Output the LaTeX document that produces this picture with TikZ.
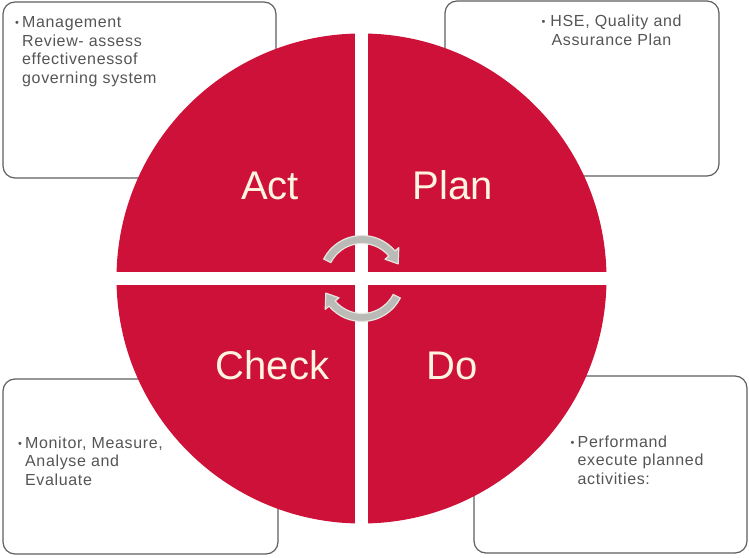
\documentclass[tikz,border=0pt]{standalone}
\usepackage{fontspec}
\setmainfont{Liberation Sans}
\newfontfamily\boxfont[LetterSpace=4]{Liberation Sans}
\definecolor{pdcared}{RGB}{206,17,57}
\definecolor{labelcream}{RGB}{255,245,222}
\definecolor{boxtext}{RGB}{85,85,85}
\definecolor{boxline}{RGB}{95,95,95}
\definecolor{arrowfill}{RGB}{186,186,182}
\definecolor{arrowedge}{RGB}{230,230,224}
\begin{document}
\begin{tikzpicture}[x=1pt,y=1pt,
  infobox/.style={draw=boxline, line width=1.2pt, rounded corners=12pt, fill=white, inner sep=0pt},
  infotext/.style={text=boxtext, font=\boxfont\fontsize{16}{18.5}\selectfont, inner sep=0pt, anchor=base west},
  phase/.style={text=labelcream, font=\fontsize{40}{44}\selectfont, inner sep=0pt, anchor=base},
  cyclearrow/.style={fill=arrowfill, draw=arrowedge, line width=1.2pt, line join=round}]
\useasboundingbox (0,0) rectangle (749,557);
% boxes
\node[infobox, minimum width=273pt, minimum height=176pt] (boxact) at (139.5,467) {};
\node[infobox, minimum width=274pt, minimum height=175pt] (boxplan) at (582,468.5) {};
\node[infobox, minimum width=275pt, minimum height=175pt] (boxcheck) at (140.5,90.5) {};
\node[infobox, minimum width=273pt, minimum height=177pt] (boxdo) at (610.5,92.5) {};
% box texts
\node[infotext] (textact) at (15,529) {\begin{tabular}[t]{@{}l@{}l@{}}\makebox[7pt][l]{\fontsize{11}{11}\selectfont\raisebox{1pt}{•}} & Management\\ & Review- assess\\ & effectivenessof\\ & governing system\end{tabular}};
\node[infotext, anchor=base] (textplan) at (611.5,530) {\begin{tabular}[t]{@{}c@{}}{\fontsize{11}{11}\selectfont\raisebox{1pt}{•}}\ HSE, Quality and\\ Assurance Plan\end{tabular}};
\node[infotext] (textcheck) at (18,109) {\begin{tabular}[t]{@{}l@{}l@{}}\makebox[7pt][l]{\fontsize{11}{11}\selectfont\raisebox{1pt}{•}} & Monitor, Measure,\\ & Analyse and\\ & Evaluate\end{tabular}};
\node[infotext] (textdo) at (570.5,110) {\begin{tabular}[t]{@{}l@{}l@{}}\makebox[7pt][l]{\fontsize{11}{11}\selectfont\raisebox{1pt}{•}} & Performand\\ & execute planned\\ & activities:\end{tabular}};
% wheel
\node[circle, fill=pdcared, minimum size=490pt, inner sep=0pt] (wheel) at (361.5,278.5) {};
\fill[white] (355,30) rectangle (368,527);
\fill[white] (113,272) rectangle (610,285);
% labels
\node[phase] (act) at (270,357) {Act};
\node[phase] (plan) at (452.5,357) {Plan};
\node[phase] (check) at (272.5,177) {Check};
\node[phase] (do) at (452.5,177) {Do};
% cycle arrows
\begin{scope}[shift={(362,278.5)}]
\path[cyclearrow] (153:43) arc[start angle=153, end angle=40, radius=43] -- (40:48) -- (22:39) -- (40:30) -- (40:35) arc[start angle=40, end angle=153, radius=35] -- cycle;
\path[cyclearrow, rotate=180] (153:43) arc[start angle=153, end angle=40, radius=43] -- (40:48) -- (22:39) -- (40:30) -- (40:35) arc[start angle=40, end angle=153, radius=35] -- cycle;
\end{scope}
\end{tikzpicture}
\end{document}
